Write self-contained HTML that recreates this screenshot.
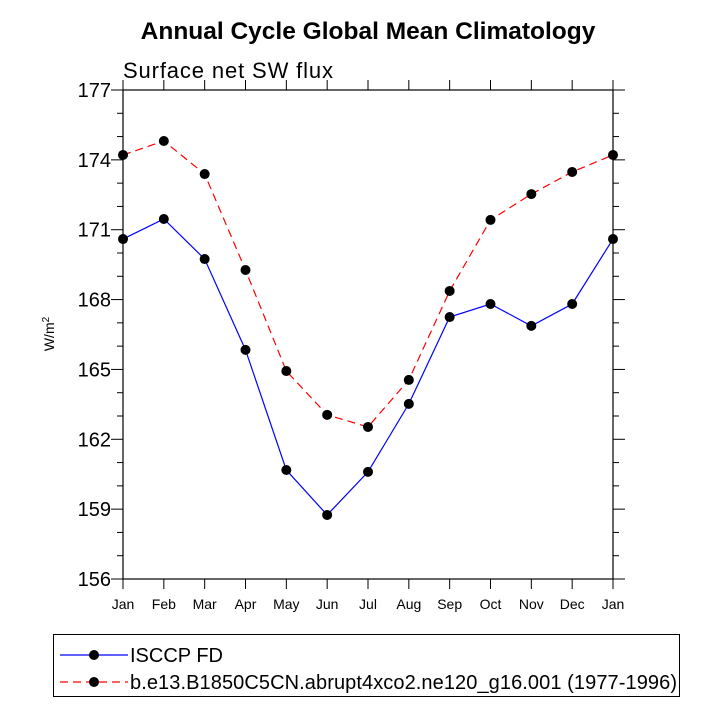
<!DOCTYPE html>
<html><head><meta charset="utf-8"><style>body{margin:0;background:#fff}svg{font-family:"Liberation Sans",sans-serif}</style></head>
<body>
<svg id="c" width="720" height="720">
<text x="368" y="39" text-anchor="middle" font-size="24.5" font-weight="bold">Annual Cycle Global Mean Climatology</text>
<text x="123" y="78" font-size="22" textLength="210">Surface net SW flux</text>
<text transform="translate(54,334) rotate(-90)" text-anchor="middle" font-size="14">W/m<tspan dy="-5" font-size="10">2</tspan></text>
<g id="axes"></g><g id="series"></g>
<g>
<rect x="53.5" y="634.5" width="626" height="62" fill="none" stroke="#000"/>
<g><line x1="60" y1="655" x2="128" y2="655" stroke="#00f" stroke-width="1.2"/><circle cx="94" cy="655" r="5"/><text x="130" y="662" font-size="20">ISCCP FD</text></g>
<g><line x1="60" y1="682" x2="128" y2="682" stroke="#f00" stroke-width="1.2" stroke-dasharray="8,5"/><circle cx="94" cy="682" r="5"/><text x="130" y="689" font-size="20" textLength="547">b.e13.B1850C5CN.abrupt4xco2.ne120_g16.001 (1977-1996)</text></g>
</g>
</svg>
<script>
const months=["Jan","Feb","Mar","Apr","May","Jun","Jul","Aug","Sep","Oct","Nov","Dec","Jan"];
const isccp=[170.6,171.46,169.74,165.84,160.68,158.75,160.6,163.52,167.25,167.81,166.87,167.81,170.6];
const model=[174.21,174.81,173.39,169.27,164.93,163.05,162.53,164.55,168.37,171.42,172.53,173.48,174.21];
const yTicks=[156,159,162,165,168,171,174,177];
const L=123,R=613,T=90,B=579,ymin=156,ymax=177;
const xs=i=>L+(R-L)*i/(months.length-1);
const ys=v=>B-(v-ymin)/(ymax-ymin)*(B-T);
const NS="http://www.w3.org/2000/svg";
function mk(t,a,p){const e=document.createElementNS(NS,t);for(const k in a)e.setAttribute(k,a[k]);p.appendChild(e);return e;}
const ax=document.getElementById('axes');
const fr=mk('rect',{x:L,y:T,width:R-L,height:B-T,fill:'none',stroke:'#000','stroke-width':1.2},ax);


for(let v=ymin;v<=ymax;v++){const y=ys(v);const maj=(v-ymin)%3===0;const len=maj?12:6;
mk('line',{x1:L-len,y1:y,x2:L,y2:y,stroke:'#000'},ax);mk('line',{x1:R,y1:y,x2:R+len,y2:y,stroke:'#000'},ax);}
yTicks.forEach(v=>{const t=mk('text',{x:L-12,y:ys(v)+7,'text-anchor':'end','font-size':20},ax);t.textContent=v;

});
months.forEach((m,i)=>{const x=xs(i);mk('line',{x1:x,y1:T-10,x2:x,y2:T,stroke:'#000'},ax);mk('line',{x1:x,y1:B,x2:x,y2:B+10,stroke:'#000'},ax);
const t=mk('text',{x:x,y:B+30,'text-anchor':'middle','font-size':14},ax);t.textContent=m;

});
const sg=document.getElementById('series');
function draw(vals,col,dash,name){const g=mk('g',{},sg);


mk('polyline',{points:vals.map((v,i)=>xs(i)+','+ys(v)).join(' '),fill:'none',stroke:col,'stroke-width':1.2,'stroke-dasharray':dash},g);
vals.forEach((v,i)=>{const c=mk('circle',{cx:xs(i),cy:ys(v),r:5,fill:'#000'},g);

});}
draw(model,'#f00','8,5','model-series');
draw(isccp,'#00f','none','isccp-series');
</script>
</body></html>
